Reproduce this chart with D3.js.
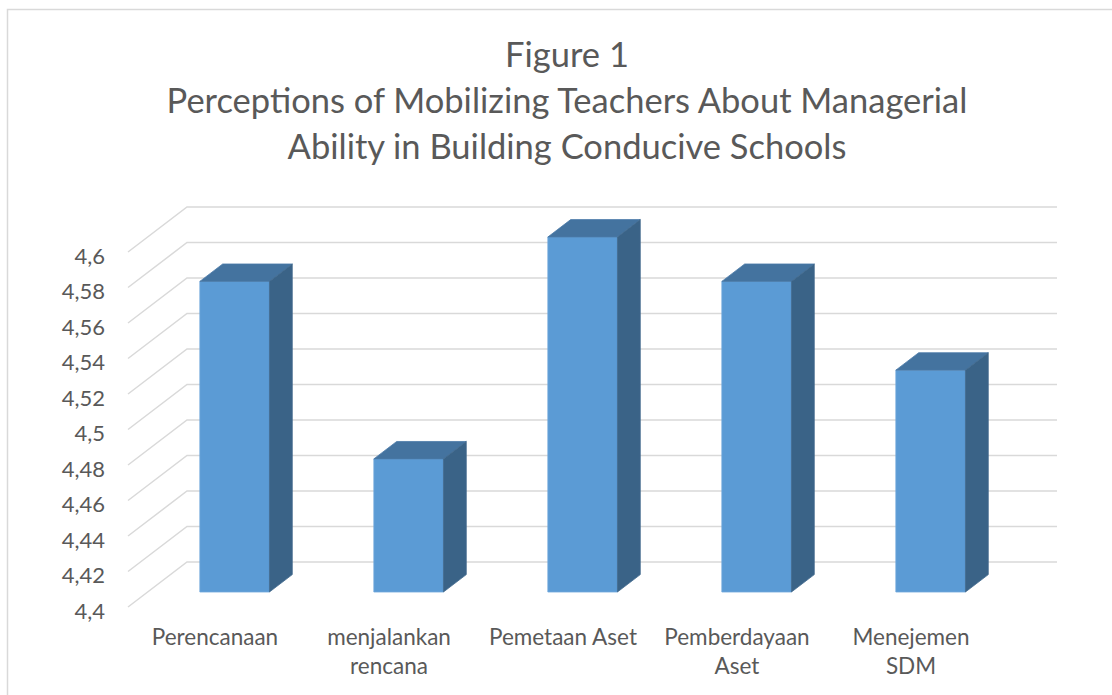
<!DOCTYPE html>
<html>
<head>
<meta charset="utf-8">
<script src="https://cdn.jsdelivr.net/npm/d3@7"></script>
<style>
  body { margin: 0; background: #fff; }
  svg { display: block; font-family: Lato, "Open Sans", sans-serif; }
</style>
</head>
<body>
<svg id="chart" width="1112" height="695"></svg>
<script>
const categories = [["Perencanaan"], ["menjalankan", "rencana"], ["Pemetaan Aset"], ["Pemberdayaan", "Aset"], ["Menejemen", "SDM"]];
const values = [4.575, 4.475, 4.6, 4.575, 4.525];
const yTicks = [4.4, 4.42, 4.44, 4.46, 4.48, 4.5, 4.52, 4.54, 4.56, 4.58, 4.6];
const titleLines = ["Figure 1", "Perceptions of Mobilizing Teachers About Managerial", "Ability in Building Conducive Schools"];

const svg = d3.select("#chart");
const textColor = "#595959";
const gridColor = "#d9d9d9";

// depth of the 3d box: offset of the back wall from the front plane
const depth = { dx: 59, dy: -45 };
const barFront = 0.333, barBack = 0.72;

const x = d3.scaleBand()
  .domain(d3.range(categories.length))
  .range([128, 998])
  .paddingInner(0.6)
  .paddingOuter(0.3);
const y = d3.scaleLinear().domain([4.4, 4.6]).range([607, 252]);

const proj = (px, py, t) => [px + depth.dx * t, py + depth.dy * t];
const fmt = d3.formatLocale({ decimal: ",", thousands: ".", grouping: [3], currency: ["", ""] }).format(".3~g");

// outer border
svg.append("rect")
  .attr("x", 7.5).attr("y", 9.5)
  .attr("width", 1120).attr("height", 700)
  .attr("fill", "none").attr("stroke", gridColor).attr("stroke-width", 1.5);

// title
svg.append("g").selectAll("text")
  .data(titleLines).enter()
  .append("text")
  .attr("x", 567)
  .attr("y", (d, i) => 67 + i * 46)
  .attr("text-anchor", "middle")
  .attr("fill", textColor)
  .attr("font-size", 34.5)
  .text(d => d);

// gridlines: side wall diagonals + back wall
const grid = svg.append("g").attr("stroke", gridColor).attr("stroke-width", 1.5).attr("fill", "none");
const x0 = x.range()[0], x1 = x.range()[1];
grid.selectAll("path").data(yTicks).enter()
  .append("path")
  .attr("d", v => {
    const a = proj(x0, y(v), 0), b = proj(x0, y(v), 1), c = proj(x1, y(v), 1);
    return d3.line()([a, b, c]);
  });

// y labels
svg.append("g").selectAll("text")
  .data(yTicks).enter()
  .append("text")
  .attr("x", 105)
  .attr("y", v => y(v) + 3)
  .attr("text-anchor", "end")
  .attr("dominant-baseline", "central")
  .attr("fill", textColor)
  .attr("font-size", 22)
  .text(v => fmt(v));

// bars
const bars = svg.append("g").selectAll("g")
  .data(values).enter()
  .append("g");

const line = d3.line();
function faces(v, i) {
  const l = x(i), r = x(i) + x.bandwidth();
  const top = y(v), base = y(4.4);
  const fl = proj(l, top, barFront), fr = proj(r, top, barFront);
  const flb = proj(l, base, barFront), frb = proj(r, base, barFront);
  const bl = proj(l, top, barBack), br = proj(r, top, barBack), brb = proj(r, base, barBack);
  return {
    front: [fl, fr, frb, flb],
    top: [fl, bl, br, fr],
    side: [fr, br, brb, frb]
  };
}
bars.append("path")
  .attr("d", (v, i) => line(faces(v, i).front) + "Z")
  .attr("fill", "#5b9bd5")
  .attr("stroke", "#6ea7dc").attr("stroke-width", 0.8);
bars.append("path")
  .attr("d", (v, i) => line(faces(v, i).top) + "Z")
  .attr("fill", "#44739f")
  .attr("stroke", "#4a7aa8").attr("stroke-width", 0.8);
bars.append("path")
  .attr("d", (v, i) => line(faces(v, i).side) + "Z")
  .attr("fill", "#3a6387")
  .attr("stroke", "#41698e").attr("stroke-width", 0.8);

// category labels
const cat = svg.append("g").selectAll("text")
  .data(categories).enter()
  .append("text")
  .attr("text-anchor", "middle")
  .attr("fill", textColor)
  .attr("font-size", 22.5);
cat.selectAll("tspan")
  .data((d, i) => d.map(s => ({ s, i })))
  .enter()
  .append("tspan")
  .attr("x", d => x(d.i) + x.bandwidth() / 2)
  .attr("y", (d, j) => 645 + j * 29)
  .text(d => d.s);
</script>
</body>
</html>
